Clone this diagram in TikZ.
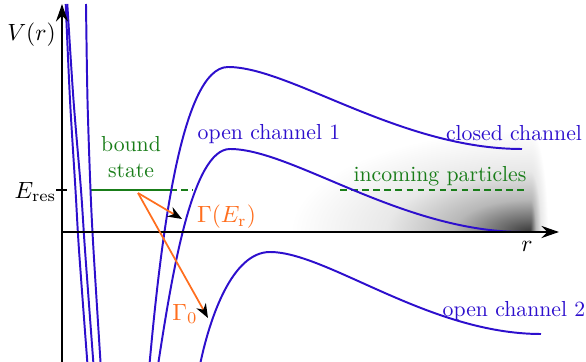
\documentclass[tikz,border=0pt]{standalone}
\usetikzlibrary{arrows.meta}
\definecolor{chblue}{RGB}{45,15,205}
\definecolor{bgreen}{RGB}{25,125,25}
\definecolor{gorange}{RGB}{255,110,30}
\pgfdeclareradialshading{glow}{\pgfpoint{0bp}{0bp}}{color(0bp)=(black!78); color(3bp)=(black!58); color(8bp)=(black!28); color(15bp)=(black!9); color(25bp)=(white); color(50bp)=(white)}
\begin{document}
\begin{tikzpicture}[x=0.46pt,y=-0.46pt,
  chan/.style={draw=chblue,line width=0.9pt},
  ax/.style={line width=1.3pt,-{Stealth[length=8pt,width=5.5pt]}},
  gam/.style={draw=gorange,line width=0.8pt,-{Stealth[length=6.5pt,width=5pt,black]}},
  eline/.style={draw=bgreen,line width=0.9pt},
  edash/.style={eline,dash pattern=on 3pt off 2.1pt},
  bl/.style={text=chblue,inner sep=0pt},
  gl/.style={text=bgreen,inner sep=0pt},
  ol/.style={text=gorange,inner sep=0pt,scale=1.08,transform shape},
  kl/.style={inner sep=0pt,scale=1.08,transform shape}]
\useasboundingbox (0,0) rectangle (586,362);
% glow
\begin{scope}
\clip (290,110) rectangle (530.5,232);
\shade[shading=glow] (290,130) rectangle (770,334);
\end{scope}
\begin{scope}
\clip (530,110) rectangle (560,232);
\shade[shading=glow] (512,130) rectangle (548,334);
\end{scope}
% coordinates
\coordinate (O) at (62,232);
\coordinate (xe) at (559,232);
\coordinate (yb) at (62,362);
\coordinate (yt) at (62,4);
\coordinate (t1) at (56,190);
\coordinate (t2) at (67,190);
\coordinate (b0) at (90.5,190);
\coordinate (b1) at (170,190);
\coordinate (b2) at (193,190);
\coordinate (b3) at (340,190);
\coordinate (b4) at (527,190);
\coordinate (g0) at (138,193);
\coordinate (g1) at (182,219);
\coordinate (g2) at (208,318);
% energy line
\draw[eline] (b0) -- (b1);
\draw[edash] (b1) -- (b2);
\draw[edash] (b3) -- (b4);
% walls
\draw[chan] plot[smooth] coordinates {(65.7,4) (70,100) (75.5,190) (79,250) (87.3,362)};
\draw[chan] plot[smooth] coordinates {(67.3,4) (73.5,100) (81,190) (85,250) (93.3,362)};
\draw[chan] plot[smooth] coordinates {(86,4) (87.5,100) (90.5,190) (93.5,250) (100.5,362)};
% closed channel
\draw[chan] (149.7,362) .. controls (160,250) and (180,67) .. (228,67)
                        .. controls (290,67) and (400,149) .. (522,149);
% open channel 1
\draw[chan] (158.5,362) .. controls (172,275) and (192,149) .. (230,149)
                        .. controls (292,149) and (402,232) .. (523,232);
% open channel 2
\draw[chan] (200.6,362) .. controls (210,318) and (232,252) .. (270,252)
                        .. controls (327,252) and (429,334) .. (541,334);
% axes
\draw[ax] (O) -- (xe);
\draw[ax] (yb) -- (yt);
\draw[line width=1pt] (t1) -- (t2);
% arrows
\draw[gam] (g0) -- (g1);
\draw[gam] (g0) -- (g2);
% labels
\node[kl] (V) at (31.5,35) {$V(r)$};
\node[kl] (E) at (35.5,192) {$E_{\mathrm{res}}$};
\node[kl] (r) at (527,246) {$r$};
\node[gl,align=center] (bs) at (131,157) {bound\\state};
\node[gl] (inc) at (440,176) {incoming particles};
\node[bl] (oc1) at (269,134.5) {open channel 1};
\node[bl] (cc) at (514,133.5) {closed channel};
\node[bl] (oc2) at (514,311.5) {open channel 2};
\node[ol] (GE) at (226.5,217) {$\Gamma(E_{\mathrm{r}})$};
\node[ol] (G0) at (185,314) {$\Gamma_0$};
\end{tikzpicture}
\end{document}
